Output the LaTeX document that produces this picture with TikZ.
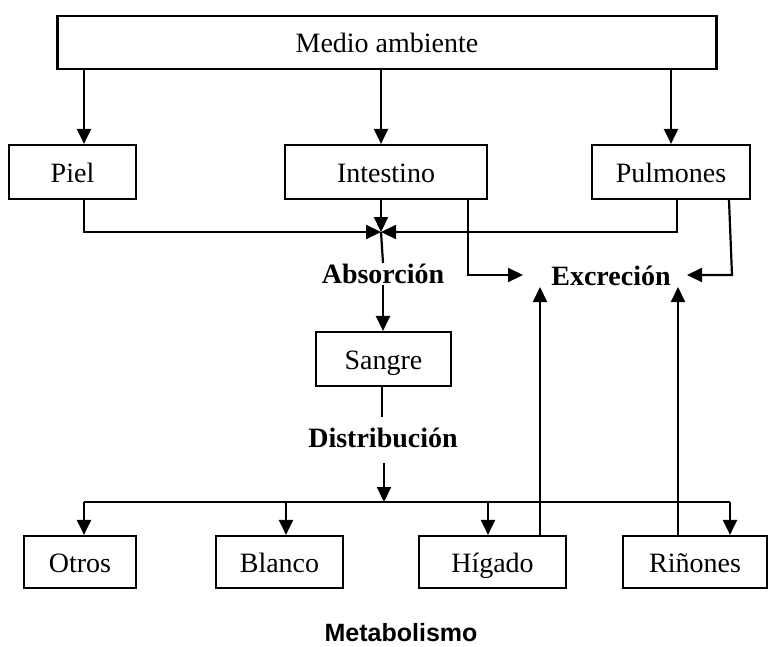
\documentclass[tikz,border=0pt]{standalone}
\usepackage{fontspec}
\setmainfont{Liberation Serif}
\newfontfamily\metafont{Liberation Sans}
\usetikzlibrary{arrows.meta}
\begin{document}
\begin{tikzpicture}[x=1pt,y=-1pt,
  box/.style={draw,line width=2.2pt,inner sep=0pt,text height=26pt,text depth=6pt,font=\fontsize{28}{32}\selectfont},
  lbl/.style={inner sep=2pt,anchor=base,font=\fontsize{28}{32}\selectfont\bfseries},
  ln/.style={line width=2.2pt},
  arr/.style={line width=2.2pt,-{Triangle[length=15pt,width=14pt]}}]
\useasboundingbox (0,0) rectangle (769,646);
\node[box,minimum width=659pt,minimum height=53pt] (medio) at (387,42.5) {Medio ambiente};
\node[box,minimum width=127pt,minimum height=54pt] (piel) at (72.5,172) {Piel};
\node[box,minimum width=202pt,minimum height=54pt] (intestino) at (386,172) {Intestino};
\node[box,minimum width=158pt,minimum height=54pt] (pulmones) at (671,172) {Pulmones};
\node[lbl] (abs) at (383,283) {Absorción};
\node[lbl] (exc) at (611,285) {Excreción};
\node[box,minimum width=135pt,minimum height=54pt] (sangre) at (383.5,359) {Sangre};
\node[lbl] (dist) at (383,447) {Distribución};
\node[box,minimum width=112.5pt,minimum height=52pt] (otros) at (80,562) {Otros};
\node[box,minimum width=127pt,minimum height=52pt] (blanco) at (279.5,562) {Blanco};
\node[box,minimum width=147pt,minimum height=52pt] (higado) at (492.5,562) {Hígado};
\node[box,minimum width=144pt,minimum height=52pt] (rinones) at (695,562) {Riñones};
\node[inner sep=0pt,anchor=base,font=\metafont\fontsize{25}{30}\selectfont\bfseries] (meta) at (401,641) {Metabolismo};
\coordinate (J) at (381,232);
\coordinate (D) at (384,502);
% from environment
\draw[arr] (medio.south -| 84,0) -- (84,0 |- piel.north);
\draw[arr] (medio.south -| 381,0) -- (381,0 |- intestino.north);
\draw[arr] (medio.south -| 671,0) -- (671,0 |- pulmones.north);
% absorption
\draw[arr] (piel.south -| 84,0) -- (84,232) -- (J);
\draw[arr] (pulmones.south -| 677,0) -- (677,232) -- (J);
\draw[arr] (intestino.south -| J) -- (J);
\draw[ln] (J) -- (383,263);
\draw[arr] (383,285) -- (383,0 |- sangre.north);
% distribution
\draw[ln] (sangre.south -| 382,0) -- (382,417);
\draw[arr] (384,463) -- (D);
\draw[ln] (84,502) -- (730,502);
\draw[arr] (84,502) -- (84,0 |- otros.north);
\draw[arr] (286,502) -- (286,0 |- blanco.north);
\draw[arr] (488,502) -- (488,0 |- higado.north);
\draw[arr] (730,502) -- (730,0 |- rinones.north);
% excretion
\draw[arr] (intestino.south -| 468,0) -- (468,275) -- (523,275);
\draw[arr] (pulmones.south -| 729,0) -- (732,275) -- (687,275);
\draw[arr] (higado.north -| 540,0) -- (540,287);
\draw[arr] (rinones.north -| 678,0) -- (678,287);
\end{tikzpicture}
\end{document}
